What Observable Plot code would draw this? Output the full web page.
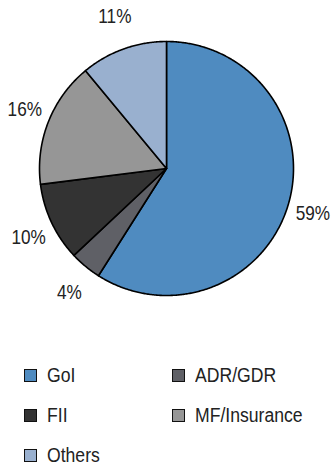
<!DOCTYPE html>
<html>
<head>
<meta charset="utf-8">
<script src="https://cdn.jsdelivr.net/npm/d3@7"></script>
<script src="https://cdn.jsdelivr.net/npm/@observablehq/plot@0.6"></script>
<style>
  html, body { margin: 0; padding: 0; background: #fff; overflow: hidden; }
  body { width: 331px; height: 467px; font-family: "Liberation Sans", Arial, sans-serif; color: #222; }
  #legend { display: grid; grid-template-columns: 148px auto; grid-auto-rows: 40px; padding-left: 24px; font-size: 20px; }
  .item { display: flex; align-items: center; white-space: nowrap; }
  .sw { width: 11px; height: 11px; border: 1px solid #111; margin-right: 10px; flex: none; }
  /* narrow lettering */
  .lbl { display: inline-block; transform: scaleX(0.88); transform-origin: left center; }
</style>
</head>
<body>
<div id="chart"></div>
<div id="legend"></div>
<script>
// Shareholding pattern (%)
const categories = ["GoI", "ADR/GDR", "FII", "MF/Insurance", "Others"];
const shares = [59, 4, 10, 16, 11];
const colors = ["#4f8bc0", "#5f6066", "#333333", "#969696", "#99b0cf"];

// Slice angles, clockwise from 12 o'clock
const pie = d3.pie().sort(null).value(d => d.value)(
  categories.map((name, i) => ({name, value: shares[i]}))
);

// Outline of each slice: centre, sampled arc, back to centre
const outline = [];
for (const s of pie) {
  const name = s.data.name;
  outline.push({name, x: 0, y: 0});
  const n = Math.max(2, Math.ceil((s.endAngle - s.startAngle) / (Math.PI / 360)));
  for (let k = 0; k <= n; ++k) {
    const a = s.startAngle + (s.endAngle - s.startAngle) * k / n;
    outline.push({name, x: Math.sin(a), y: Math.cos(a)});
  }
  outline.push({name, x: 0, y: 0});
}

// Percentage labels outside each slice (a bit more room vertically for the text height)
const labelRx = 1.2, labelRy = 1.27;
const labels = pie.map(s => {
  const a = (s.startAngle + s.endAngle) / 2;
  return {name: s.data.name, text: `${s.data.value}%`, x: labelRx * Math.sin(a), y: labelRy * Math.cos(a)};
});

const chart = Plot.plot({
  width: 331,
  height: 355,
  marginLeft: 39,
  marginRight: 38,
  marginTop: 41,
  marginBottom: 60,
  x: {domain: [-1, 1], axis: null},
  y: {domain: [-1, 1], axis: null},
  color: {domain: categories, range: colors},
  style: {fontFamily: "'Liberation Sans', Arial, sans-serif", background: "#fff"},
  marks: [
    Plot.line(outline, {x: "x", y: "y", z: "name", fill: "name", stroke: "#000", strokeWidth: 1.6, strokeLinejoin: "round"}),
    Plot.text(labels, {x: "x", y: "y", text: "text", fontSize: 20, fill: "#222", textAnchor: "middle", lineAnchor: "middle"})
  ]
});

// Squeeze the label glyphs horizontally around their anchor
d3.select(chart).selectAll("text").each(function () {
  const t = this.getAttribute("transform");
  if (t) this.setAttribute("transform", `${t} scale(0.86,1)`);
});
document.getElementById("chart").append(chart);

// Legend
const legend = d3.select("#legend");
categories.forEach((name, i) => {
  const item = legend.append("div").attr("class", "item");
  item.append("span").attr("class", "sw").style("background", colors[i]);
  item.append("span").attr("class", "lbl").text(name);
});
</script>
</body>
</html>
